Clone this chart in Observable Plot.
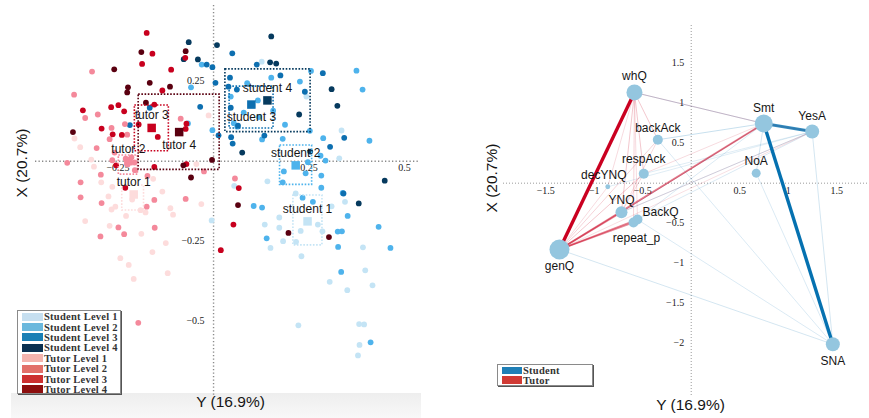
<!DOCTYPE html>
<html><head><meta charset="utf-8">
<script src="https://cdn.jsdelivr.net/npm/d3@7"></script>
<script src="https://cdn.jsdelivr.net/npm/@observablehq/plot@0.6"></script>
<style>
body{margin:0;background:#fff;}
#wrap{position:relative;width:869px;height:418px;overflow:hidden;font-family:"Liberation Sans",Arial,sans-serif;}
#wrap svg{position:absolute;top:0;}
.band{position:absolute;left:11px;top:393px;width:410px;height:25px;background:linear-gradient(#eeeeee,#f8f8f8);}
.legend{position:absolute;background:#fff;border:1px solid #8a8a8a;box-shadow:1px 1px 0 #555;font:bold 10.5px "Liberation Serif","Times New Roman",serif;letter-spacing:0.25px;color:#333;box-sizing:border-box;}
.legend .row{display:flex;align-items:center;white-space:nowrap;}
.legend .sw{flex:none;}
</style>
</head><body>
<div id="wrap"><div class="band"></div></div>
<script>
// ---------- Left panel data (CA map of individuals) ----------
const levelNames = ["Student Level 1","Student Level 2","Student Level 3","Student Level 4","Tutor Level 1","Tutor Level 2","Tutor Level 3","Tutor Level 4"];
const studentL1 = [[0.126,0.311],[0.243,0.202],[0.335,0.096],[0.329,0.009],[0.141,-0.063],[0.054,-0.077],[-0.005,-0.185],[0.172,-0.176],[0.134,-0.198],[0.172,-0.208],[0.182,-0.250],[0.149,-0.271],[0.228,-0.218],[0.216,-0.252],[0.273,-0.198],[0.285,-0.219],[0.230,-0.297],[0.391,-0.269],[0.397,-0.341],[0.304,-0.377],[0.350,-0.403],[0.416,-0.388],[0.222,-0.513],[0.381,-0.509],[0.394,-0.510],[0.382,-0.574],[0.378,-0.607],[0.344,-0.127],[0.309,-0.141],[0.215,-0.101]];
const studentL2 = [[-0.031,0.302],[0.255,0.282],[0.374,0.283],[0.390,0.224],[0.151,0.261],[0.088,0.244],[-0.059,0.231],[0.053,0.119],[-0.067,0.118],[-0.003,0.097],[0.119,0.138],[0.156,0.158],[0.181,0.070],[0.127,0.068],[0.287,0.072],[0.408,0.064],[0.280,0.017],[0.252,0.095],[0.293,0.002],[0.247,-0.003],[0.184,-0.032],[0.241,-0.038],[0.282,-0.045],[0.181,-0.066],[0.282,-0.083],[0.338,-0.099],[0.260,-0.127],[0.233,-0.114],[0.105,-0.140],[0.127,-0.145],[0.351,-0.171],[0.432,-0.205],[0.325,-0.220],[0.336,-0.219],[0.139,-0.241],[0.326,-0.268],[0.463,-0.271],[0.334,-0.346],[0.411,-0.566],[0.116,0.190],[0.226,0.249],[0.187,0.114],[0.079,0.152],[0.062,0.108],[0.045,0.202]];
const studentL3 = [[0.049,0.337],[-0.018,0.302],[-0.003,0.294],[0.113,0.302],[0.286,0.275],[0.175,0.268],[0.043,0.261],[0.005,0.245],[0.039,0.233],[0.061,0.224],[0.239,0.217],[0.045,0.167],[-0.035,0.170],[-0.167,0.167],[-0.219,0.113],[0.064,0.111],[0.046,0.075],[0.050,0.055],[0.013,0.081],[0.133,0.080],[0.305,0.045],[0.342,0.073],[0.340,-0.101]];
const studentL4 = [[-0.065,0.372],[0.009,0.363],[0.151,0.390],[-0.078,0.319],[-0.041,0.318],[0.148,0.309],[0.164,0.305],[0.309,0.225],[0.324,0.173],[0.224,0.146],[0.075,0.027],[0.253,0.030],[0.448,-0.061],[0.380,-0.132]];
const tutorL1 = [[-0.013,0.143],[-0.364,0.071],[-0.349,0.044],[-0.313,-0.017],[-0.320,0.005],[-0.294,-0.066],[-0.265,-0.080],[-0.275,-0.110],[-0.267,-0.151],[-0.257,-0.142],[-0.336,-0.187],[-0.272,-0.202],[-0.158,-0.055],[-0.134,-0.095],[-0.213,-0.120],[-0.191,-0.153],[-0.178,-0.160],[-0.229,-0.171],[-0.113,-0.147],[-0.106,-0.167],[-0.189,-0.227],[-0.125,-0.256],[-0.160,-0.284],[-0.244,-0.303],[-0.222,-0.324],[-0.120,-0.350],[-0.209,-0.368],[-0.045,-0.009],[-0.032,-0.134]];
const tutorL2 = [[-0.318,0.280],[-0.365,0.208],[-0.336,0.135],[-0.303,0.146],[-0.232,0.116],[-0.267,0.104],[-0.226,0.083],[-0.272,0.069],[-0.306,0.041],[-0.086,0.133],[-0.383,-0.005],[-0.265,0.003],[-0.295,-0.042],[-0.348,-0.066],[-0.348,-0.113],[-0.293,-0.131],[-0.206,-0.028],[-0.173,-0.046],[-0.155,-0.121],[-0.175,-0.142],[-0.249,-0.207],[-0.234,-0.228],[-0.296,-0.235],[-0.154,-0.208],[-0.197,-0.505],[-0.025,-0.032],[0.056,-0.054],[-0.073,-0.118],[-0.230,0.008],[-0.215,0.012],[-0.207,-0.004],[-0.225,-0.010],[-0.259,0.027]];
const tutorL3 = [[-0.175,0.401],[-0.160,0.336],[-0.074,0.323],[-0.187,0.304],[-0.111,0.286],[-0.134,0.221],[-0.155,0.177],[-0.268,0.169],[-0.249,0.175],[-0.342,0.159],[-0.234,0.156],[-0.293,0.102],[-0.264,0.084],[-0.240,0.082],[-0.196,0.115],[-0.146,0.076],[-0.071,0.117],[-0.255,-0.013],[-0.155,-0.018],[-0.231,-0.083],[0.066,-0.084],[0.052,-0.198],[0.019,-0.278],[-0.071,-0.009],[-0.073,0.101]];
const tutorL4 = [[-0.189,0.341],[-0.073,0.344],[-0.260,0.287],[-0.167,0.245],[-0.114,0.233],[-0.224,0.231],[-0.226,0.215],[-0.177,0.183],[-0.368,0.091],[-0.079,-0.013],[-0.004,0.004],[-0.059,-0.051],[0.064,-0.137],[0.196,-0.224],[0.302,-0.237]];

// group centroids and their dispersion boxes
const centroidNames = ["student 1","student 2","student 3","student 4","tutor 1","tutor 2","tutor 3","tutor 4"];
const centroidX = [0.246,0.215,0.099,0.141,-0.209,-0.223,-0.162,-0.090];
const centroidY = [-0.188,-0.013,0.177,0.190,-0.104,0.000,0.104,0.091];
const boxX1 = [0.209,0.174,0.042,0.031,-0.239,-0.248,-0.206,-0.196];
const boxX2 = [0.285,0.258,0.157,0.254,-0.182,-0.198,-0.117,0.016];
const boxY1 = [-0.263,-0.074,0.102,0.091,-0.154,-0.042,0.031,-0.027];
const boxY2 = [-0.107,0.049,0.233,0.287,-0.076,0.018,0.174,0.208];
const leftXTicks = [-0.25,0.25,0.5];
const leftYTicks = [0.25,-0.25,-0.5];

// ---------- Right panel data (category map with transition links) ----------
const nodeNames = ["whQ","Smt","YesA","backAck","respAck","NoA","decYNQ","YNQ","BackQ","repeat_p","genQ","SNA"];
const nodeX = [-0.585,0.748,1.247,-0.344,-0.489,0.670,-0.860,-0.719,-0.554,-0.595,-1.358,1.460];
const nodeY = [1.134,0.746,0.646,0.543,0.118,0.125,-0.045,-0.363,-0.454,-0.491,-0.829,-2.013];
const nodeFreq = [64,81,49,25,25,20,6,36,25,25,100,49];
const edgeFrom = ["whQ","genQ","genQ","genQ","genQ","genQ","genQ","genQ","whQ","whQ","whQ","whQ","whQ","whQ","whQ","YNQ","respAck","Smt","YNQ","genQ","backAck","respAck",
                  "Smt","Smt","whQ","backAck","NoA","YesA","genQ","BackQ","backAck","NoA","YNQ","BackQ","repeat_p","YNQ","decYNQ","respAck"];
const edgeTo   = ["genQ","Smt","YNQ","BackQ","repeat_p","respAck","backAck","decYNQ","respAck","backAck","YNQ","repeat_p","decYNQ","Smt","BackQ","Smt","Smt","YesA","YesA","YesA","YNQ","YNQ",
                  "SNA","YesA","Smt","Smt","Smt","SNA","SNA","SNA","SNA","SNA","YesA","YesA","Smt","Smt","YesA","YesA"];
const edgeGroup = ["Tutor","Tutor","Tutor","Tutor","Tutor","Tutor","Tutor","Tutor","Tutor","Tutor","Tutor","Tutor","Tutor","Tutor","Tutor","Tutor","Tutor","Tutor","Tutor","Tutor","Tutor","Tutor",
                   "Student","Student","Student","Student","Student","Student","Student","Student","Student","Student","Student","Student","Student","Student","Student","Student"];
const edgeWeight = [1.0,0.45,0.4,0.45,0.4,0.15,0.12,0.1,0.15,0.15,0.15,0.12,0.1,0.15,0.1,0.15,0.1,0.3,0.08,0.08,0.1,0.1,
                    1.0,0.8,0.15,0.15,0.12,0.12,0.12,0.1,0.1,0.1,0.12,0.1,0.1,0.1,0.08,0.08];
const rightXTicks = [-1.5,-1,-0.5,0.5,1,1.5];
const rightYTicks = [1.5,1,0.5,-0.5,-1,-1.5,-2];
const rightLegend = ["Student","Tutor"];

// ---------- build tables ----------
const pointColors = ["#c4e4f5","#4eb3ec","#0d6fb0","#063a5e","#fddcdc","#f4899b","#c8001e","#5a0010"];
const legendColors = ["#c6dff0","#6bb8dd","#1a7fb5","#0a3050","#f4b4ae","#e2706a","#cc3030","#8c0e0e"];
const points = [];
[studentL1,studentL2,studentL3,studentL4,tutorL1,tutorL2,tutorL3,tutorL4].forEach((arr,i)=>
  arr.forEach(([x,y])=>points.push({x,y,level:levelNames[i]})));
const centroids = centroidNames.map((n,i)=>({name:n,level:levelNames[i],x:centroidX[i],y:centroidY[i],bx1:boxX1[i],bx2:boxX2[i],by1:boxY1[i],by2:boxY2[i]}));
const belowNames = new Set(["tutor 4","student 3"]);
const fmt = d => d < 0 ? "\u2212" + Math.abs(d) : String(d);
const tickFont = {fontFamily:"Liberation Serif, Times New Roman, serif", fontSize:10, fill:"#222"};
const labFont = {fontFamily:"Liberation Sans, Arial, sans-serif", fontSize:12, fill:"#151515"};
const axFont = {fontFamily:"Liberation Sans, Arial, sans-serif", fontSize:15.5, fill:"#151515"};

const left = Plot.plot({
  width:435, height:418, marginLeft:35, marginRight:16, marginTop:5, marginBottom:23,
  x:{domain:[-0.466,0.539], axis:null},
  y:{domain:[-0.7322,0.4866], axis:null},
  color:{domain:levelNames, range:pointColors},
  style:{background:"transparent", overflow:"visible"},
  marks:[
    Plot.ruleY([0],{stroke:"#8a8a8a",strokeDasharray:"1.3,2.2",strokeWidth:1.4}),
    Plot.ruleX([0],{stroke:"#8a8a8a",strokeDasharray:"1.3,2.2",strokeWidth:1.4}),
    Plot.text(leftXTicks,{x:d=>d,y:d=>0,text:fmt,dy:6.5,...tickFont}),
    Plot.text(leftYTicks,{x:d=>0,y:d=>d,text:fmt,dx:-9,textAnchor:"end",...tickFont}),
    Plot.dot(points,{x:"x",y:"y",fill:"level",r:2.9}),
    Plot.rect(centroids,{x1:"bx1",x2:"bx2",y1:"by1",y2:"by2",fill:"none",stroke:"level",strokeDasharray:"1.6,1.6",strokeWidth:1.6}),
    Plot.dot(centroids,{x:"x",y:"y",fill:"level",symbol:"square",r:4.8}),
    Plot.text(centroids.filter(d=>!belowNames.has(d.name)),{x:"x",y:"y",text:"name",dy:-12.5,...labFont}),
    Plot.text(centroids.filter(d=>belowNames.has(d.name)),{x:"x",y:"y",text:"name",dy:13,...labFont}),
    Plot.text(["Y (16.9%)"],{frameAnchor:"bottom",text:d=>d,dx:3,dy:11,...axFont}),
    Plot.text(["X (20.7%)"],{frameAnchor:"left",text:d=>d,rotate:-90,dx:-13,dy:-3,...axFont})
  ]
});
left.style.left = "0px";

const nodes = nodeNames.map((n,i)=>({name:n,x:nodeX[i],y:nodeY[i],freq:nodeFreq[i]}));
const byName = new Map(nodes.map(d=>[d.name,d]));
const edges = edgeFrom.map((f,i)=>({a:byName.get(f),b:byName.get(edgeTo[i]),group:edgeGroup[i],w:edgeWeight[i]}))
  .sort((p,q)=>p.w-q.w);
const labelOffsets = {whQ:[0,-16],Smt:[0,-15],YesA:[0,-15],backAck:[0,-11.5],respAck:[0,-15],NoA:[0,-12],
  decYNQ:[-4,-12],YNQ:[0,-12],BackQ:[5,-7,"start"],repeat_p:[3,15.5],genQ:[0,17],SNA:[0,17]};

const right = Plot.plot({
  width:434, height:418, marginLeft:68, marginRight:0, marginTop:25, marginBottom:23,
  x:{domain:[-1.935,1.838], axis:null},
  y:{domain:[-2.654,1.971], axis:null},
  color:{domain:rightLegend, range:["#0571b0","#ca0020"]},
  r:{type:"sqrt", domain:[0,100], range:[0,10]},
  opacity:{type:"identity"},
  style:{background:"transparent", overflow:"visible"},
  marks:[
    Plot.ruleY([0],{stroke:"#9a9a9a",strokeDasharray:"1,2",strokeWidth:1}),
    Plot.ruleX([0],{stroke:"#9a9a9a",strokeDasharray:"1,2",strokeWidth:1}),
    Plot.text(rightXTicks,{x:d=>d,y:d=>0,text:fmt,dy:7.5,...tickFont}),
    Plot.text(rightYTicks,{x:d=>0,y:d=>d,text:fmt,dx:-7,textAnchor:"end",...tickFont}),
    Plot.link(edges,{x1:d=>d.a.x,y1:d=>d.a.y,x2:d=>d.b.x,y2:d=>d.b.y,stroke:"group",
      strokeWidth:d=>0.5+2.9*d.w, strokeOpacity:d=>0.1+0.9*d.w}),
    Plot.dot(nodes,{x:"x",y:"y",r:"freq",fill:"#94c6df"}),
    ...nodes.map(n=>{const o=labelOffsets[n.name];
      return Plot.text([n],{x:"x",y:"y",text:"name",dx:o[0],dy:o[1],textAnchor:o[2]||"middle",...labFont});}),
    Plot.text(["Y (16.9%)"],{frameAnchor:"bottom",text:d=>d,dx:4,dy:14,...axFont}),
    Plot.text(["X (20.7%)"],{frameAnchor:"left",text:d=>d,rotate:-90,dx:-11,dy:2,...axFont})
  ]
});
right.style.left = "435px";

const wrap = document.getElementById("wrap");
wrap.appendChild(left);
wrap.appendChild(right);

function legend(labels, colors, opt){
  const div = document.createElement("div");
  div.className = "legend";
  Object.assign(div.style,{left:opt.left+"px",top:opt.top+"px",width:opt.w+"px",height:opt.h+"px",paddingTop:opt.pt+"px",paddingLeft:opt.pl+"px"});
  labels.forEach((l,i)=>{
    const row=document.createElement("div"); row.className="row"; row.style.height=opt.rh+"px";
    const sw=document.createElement("span"); sw.className="sw";
    Object.assign(sw.style,{width:opt.sw+"px",height:opt.sh+"px",background:colors[i],marginRight:"1px"});
    const t=document.createElement("span"); t.textContent=l;
    row.appendChild(sw); row.appendChild(t); div.appendChild(row);
  });
  wrap.appendChild(div);
}
legend(levelNames, legendColors, {left:17,top:310,w:104,h:84,pt:0.5,pl:4,rh:10.4,sw:21,sh:8});
legend(rightLegend, ["#1f7fb6","#d03a34"], {left:497,top:364,w:96,h:22,pt:1,pl:4,rh:9.4,sw:20,sh:7.5});
</script>
</body></html>
